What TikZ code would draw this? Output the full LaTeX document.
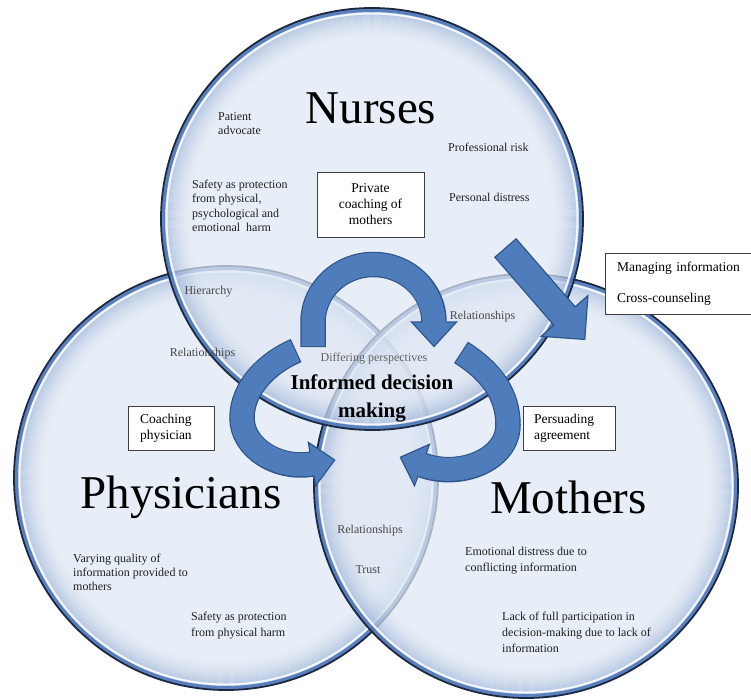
\documentclass[tikz,border=0pt]{standalone}
\usepackage{fontspec}
\setmainfont{Liberation Serif}
\definecolor{cin}{RGB}{224,232,244}
\definecolor{crim}{RGB}{60,105,178}
\definecolor{ringline}{RGB}{28,40,66}
\definecolor{arrfill}{RGB}{79,125,187}
\definecolor{arrline}{RGB}{47,85,140}
\tikzset{
  rim/.style={draw=ringline, line width=1.8pt},
  note/.style={inner sep=0pt, anchor=north west, align=left, text=black!88},
  lbl/.style={inner sep=0pt, font=\fontsize{12}{14}\selectfont, text=black!72},
  bigtitle/.style={inner sep=0pt, anchor=base, font=\fontsize{47}{50}\selectfont},
  boxnode/.style={draw=black!75, line width=0.8pt, fill=white, font=\fontsize{13.5}{16}\selectfont},
  bandout/.style={draw=arrline, line width=25.5pt},
  bandin/.style={draw=arrfill, line width=23pt},
  headshape/.style={fill=arrfill, draw=arrline, line width=1.2pt, line join=miter},
}
\newcommand{\glassdisc}[2]{%
  \fill[cin, fill opacity=0.72] (#1) circle[radius=#2pt];
  \foreach \k in {2,...,30}{%
    \pgfmathsetmacro{\op}{0.34*(1-\k/31)^1.6}
    \pgfmathsetmacro{\rr}{#2-\k}
    \draw[crim, line width=1.05pt, draw opacity=\op] (#1) circle[radius=\rr pt];
  }
  \pgfmathsetmacro{\rra}{#2-2}
  \pgfmathsetmacro{\rrb}{#2-5.5}
  \draw[crim, line width=4pt, draw opacity=0.75] (#1) circle[radius=\rra pt];
  \draw[white, line width=2pt, draw opacity=0.85] (#1) circle[radius=\rrb pt];
  \draw[rim] (#1) circle[radius=#2pt];
}
\begin{document}
\begin{tikzpicture}[x=1pt,y=-1pt]
\useasboundingbox (0,0) rectangle (751,698);
\fill[white] (0,0) rectangle (751,698);

% circles
\coordinate (cP) at (226,478);
\coordinate (cM) at (526,486);
\coordinate (cN) at (372,219);
\glassdisc{cP}{212}
\glassdisc{cM}{212}
\glassdisc{cN}{211}

% top arch arrow
\draw[bandout, shorten <=-1.2pt] (313,346) -- (313,322) arc[start angle=180, end angle=0, x radius=60.5pt, y radius=57.5pt];
\draw[headshape] (411.5,322) -- (434,346.5) -- (456.5,322) -- cycle;
\draw[bandin, shorten >=-2pt] (313,346) -- (313,322) arc[start angle=180, end angle=0, x radius=60.5pt, y radius=57.5pt];

% left curved arrow
\draw[bandout, shorten <=-1.2pt] (295,351) .. controls (267,363) and (242,388) .. (242,418) .. controls (242,448) and (278,470) .. (312,464);
\draw[headshape] (308.3,442.3) -- (334.7,460) -- (315.7,485.7) -- cycle;
\draw[bandin, shorten >=-2pt] (295,351) .. controls (267,363) and (242,388) .. (242,418) .. controls (242,448) and (278,470) .. (312,464);

% right curved arrow
\draw[bandout, shorten <=-1.2pt] (462,353) .. controls (492,372) and (508,395) .. (508,425) .. controls (508,460) and (460,479) .. (422,465);
\draw[headshape] (429.5,444.3) -- (400.4,457.2) -- (414.5,485.7) -- cycle;
\draw[bandin, shorten >=-2pt] (462,353) .. controls (492,372) and (508,395) .. (508,425) .. controls (508,460) and (460,479) .. (422,465);

% straight arrow
\draw[headshape] (516.1,238.8) -- (575.1,306.8) -- (587.9,295.7) -- (584.8,339.4) -- (541.1,336.3) -- (553.9,325.2) -- (494.9,257.2) -- cycle;

% titles
\node[bigtitle] (tN) at (371,123) {Nurses};
\node[bigtitle] (tP) at (181,508) {Physicians};
\node[bigtitle] (tM) at (568.5,513) {Mothers};

% notes
\node[note, font=\fontsize{12}{14}\selectfont] (n1) at (218,112.5) {Patient\\advocate};
\node[note, font=\fontsize{12}{14.5}\selectfont] (n2) at (192,179.5) {Safety as protection\\from physical,\\psychological and\\emotional\ \ harm};
\node[note, font=\fontsize{12}{14}\selectfont] (n3) at (448,142.5) {Professional risk};
\node[note, font=\fontsize{12}{14}\selectfont] (n4) at (449,192.5) {Personal distress};
\node[note, font=\fontsize{12}{14}\selectfont] (n5) at (73,553.5) {Varying quality of\\information provided to\\mothers};
\node[note, font=\fontsize{12}{16}\selectfont] (n6) at (191,611.5) {Safety as protection\\from physical harm};
\node[note, font=\fontsize{12}{16}\selectfont] (n7) at (465,546.5) {Emotional distress due to\\conflicting information};
\node[note, font=\fontsize{12}{16}\selectfont] (n8) at (502,611.5) {Lack of full participation in\\decision-making due to lack of\\information};

% overlap labels
\node[lbl] (l1) at (208.5,292) {Hierarchy};
\node[lbl] (l2) at (202.5,354) {Relationships};
\node[lbl] (l3) at (482.5,317) {Relationships};
\node[lbl, text=black!62] (l4) at (374,359) {Differing perspectives};
\node[lbl] (l5) at (370,531) {Relationships};
\node[lbl] (l6) at (368,570) {Trust};

% centre
\node[inner sep=0pt, align=center, font=\fontsize{21}{28}\bfseries\selectfont] (idm) at (372,398) {Informed decision\\making};

% boxes
\node[boxnode, minimum width=107pt, minimum height=65pt, align=center] (b1) at (370.5,204.5) {Private\\coaching of\\mothers};
\node[boxnode, minimum width=86pt, minimum height=44pt, inner xsep=12pt, text width=62pt, align=left] (b2) at (171,428) {Coaching\\physician};
\node[boxnode, minimum width=92pt, minimum height=44pt, inner xsep=11pt, text width=70pt, align=left] (b3) at (569,428) {Persuading\\agreement};
\node[boxnode, minimum width=160pt, minimum height=61pt, inner xsep=12pt, text width=136pt, align=left] (b4) at (685,283.5) {Managing information\\[15pt]Cross-counseling};
\end{tikzpicture}
\end{document}
